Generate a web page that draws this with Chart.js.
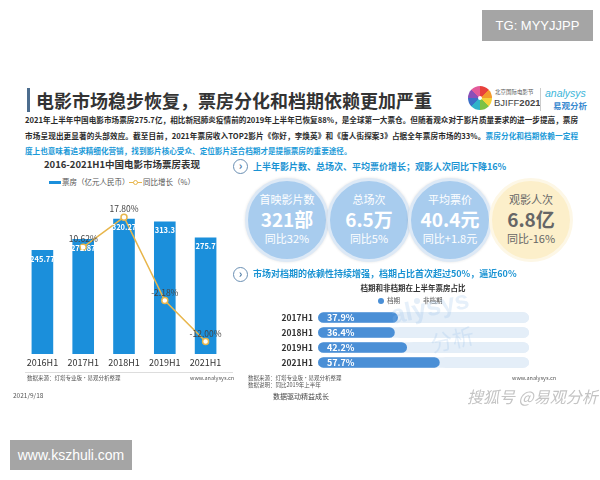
<!DOCTYPE html>
<html><head><meta charset="utf-8">
<script src="https://cdn.jsdelivr.net/npm/chart.js@4"></script>
<style>
*{margin:0;padding:0;box-sizing:border-box}
body{width:600px;height:480px;background:#fff;position:relative;overflow:hidden;font-family:"Noto Sans CJK SC","Noto Sans",sans-serif;color:#333}
.abs{position:absolute;white-space:nowrap}
.gbox{position:absolute;background:#a5a5a5;color:#fff;font-family:"Liberation Sans","Open Sans",sans-serif;display:flex;align-items:center;justify-content:center}
.para{position:absolute;left:25px;width:553px;font-size:7.6px;font-weight:bold;line-height:10px;color:#2b2b2b}
.j{text-align:justify;text-align-last:justify}
.blue{color:#1b9ad8}
.hdr{position:absolute;left:253px;font-size:9px;font-weight:bold;color:#1a93d3;line-height:12px}
.icon{position:absolute;width:15px;height:15px;border:1.3px solid #6a8fb3;border-radius:50%;color:#4f7aa3;font-size:11px;line-height:11px;text-align:center;font-weight:bold}
.circ{position:absolute;width:84px;height:84px;border-radius:50%;background:#a8ccee;border:3px solid #dde9f6;box-shadow:0 0 3px rgba(0,0,0,0.12);color:#fff;text-align:center}
.circ .l{position:absolute;left:0;right:0;top:12px;font-size:11px;line-height:13px}
.circ .n{position:absolute;left:0;right:0;top:27px;font-size:19px;font-weight:bold;line-height:22px}
.circ .s{position:absolute;left:0;right:0;top:51px;font-size:11px;line-height:13px}
.circ.y{background:#fcefca;border-color:#fdf7e6;color:#666}
.foot{position:absolute;font-size:5.5px;color:#555;line-height:7px;white-space:nowrap}
</style></head>
<body>
<div class="gbox" style="left:482px;top:10px;width:111px;height:31px;font-size:13px">TG: MYYJJPP</div>
<div class="gbox" style="left:10px;top:440px;width:122px;height:30px;font-size:14px">www.kszhuli.com</div>

<div class="abs" style="left:27px;top:88px;width:2.5px;height:24px;background:#4d6d8e"></div>
<div class="abs" style="left:36px;top:88px;font-size:18px;font-weight:bold;line-height:24px;color:#333">电影市场稳步恢复，票房分化和档期依赖更加严重</div>

<div class="abs" style="left:468px;top:86px;width:24px;height:24px;border-radius:50%;background:conic-gradient(#e8413c 0 45deg,#f39a2b 45deg 90deg,#f6d23a 90deg 135deg,#7cc245 135deg 180deg,#2fb3c9 180deg 225deg,#3a6fc8 225deg 270deg,#8a4fb8 270deg 315deg,#e35a9a 315deg 360deg)"></div>
<div class="abs" style="left:478px;top:96px;width:4px;height:4px;border-radius:50%;background:#fff"></div>
<div class="abs" style="left:495px;top:89px;font-size:5.5px;line-height:7px;color:#555">北京国际电影节</div>
<div class="abs" style="left:494px;top:97px;font-size:9.5px;line-height:12px;color:#444;font-family:'Liberation Sans',sans-serif">BJIFF<b>2021</b></div>
<div class="abs" style="left:540px;top:88px;width:1px;height:23px;background:#ccc"></div>
<div class="abs" style="left:545px;top:87px;font-size:10.5px;line-height:12px;color:#3cb6da;font-style:italic;font-family:'Liberation Sans',sans-serif">analysys</div>
<div class="abs" style="left:553px;top:100px;font-size:8.5px;line-height:11px;color:#3a8ad0;font-weight:bold">易观分析</div>

<div class="para j" style="top:115px">2021年上半年中国电影市场票房275.7亿，相比新冠肺炎疫情前的2019年上半年已恢复88%，是全球第一大票仓。但随着观众对于影片质量要求的进一步提高，票房</div>
<div class="para j" style="top:131px">市场呈现出更显著的头部效应。截至目前，2021年票房收入TOP2影片《你好，李焕英》和《唐人街探案3》占据全年票房市场的33%。<span class="blue">票房分化和档期依赖一定程</span></div>
<div class="para blue" style="top:146px">度上也意味着追求精细化营销，找到影片核心受众、定位影片适合档期才是提振票房的重要途径。</div>

<!-- left chart title/legend -->
<div class="abs" style="left:0;width:244px;text-align:center;top:158px;font-size:9.5px;font-weight:bold;line-height:13px;color:#333">2016-2021H1中国电影市场票房表现</div>
<div class="abs" style="left:49px;top:181px;width:12px;height:3px;background:#1b8fdb"></div>
<div class="abs" style="left:62px;top:177px;font-size:7.5px;line-height:10px;color:#555">票房（亿元人民币）</div>
<div class="abs" style="left:129px;top:182px;width:13px;height:1px;background:#e8b64c"></div>
<div class="abs" style="left:133px;top:180px;width:5px;height:5px;border-radius:50%;background:#fff;border:1px solid #e8b64c"></div>
<div class="abs" style="left:143px;top:177px;font-size:7.5px;line-height:10px;color:#555">同比增长（%）</div>

<div style="position:absolute;left:0;top:190px;width:240px;height:190px"><canvas id="c1"></canvas></div>
<div class="abs" style="left:25px;top:372px;width:208px;height:1px;background:#ddd"></div>
<div class="foot" style="left:27px;top:375px">数据来源：灯塔专业版·易观分析整理</div>
<div class="foot" style="left:190px;top:375px">www.analysys.cn</div>
<div class="abs" style="left:13px;top:391px;font-size:6.5px;line-height:8px;color:#555">2021/9/18</div>

<!-- right side -->
<div class="icon" style="left:233px;top:159px">›</div>
<div class="hdr" style="top:161px">上半年影片数、总场次、平均票价增长；观影人次同比下降16%</div>

<div class="circ" style="left:245px;top:178px"><div class="l">首映影片数</div><div class="n">321部</div><div class="s">同比32%</div></div>
<div class="circ" style="left:327px;top:178px"><div class="l">总场次</div><div class="n">6.5万</div><div class="s">同比5%</div></div>
<div class="circ" style="left:408px;top:178px"><div class="l">平均票价</div><div class="n">40.4元</div><div class="s">同比+1.8元</div></div>
<div class="circ y" style="left:489px;top:178px;box-shadow:none"><div class="l">观影人次</div><div class="n">6.8亿</div><div class="s">同比-16%</div></div>

<div class="icon" style="left:233px;top:267px">›</div>
<div class="hdr" style="top:268px">市场对档期的依赖性持续增强，档期占比首次超过50%，逼近60%</div>

<div class="abs" style="left:300px;width:226px;text-align:center;top:283px;font-size:7.5px;font-weight:bold;line-height:10px;color:#333">档期和非档期在上半年票房占比</div>
<div class="abs" style="left:378px;top:298px;width:6px;height:6px;border-radius:50%;background:#4a8fd6"></div>
<div class="abs" style="left:387px;top:296px;font-size:6.5px;line-height:9px;color:#555">档期</div>
<div class="abs" style="left:414px;top:298px;width:6px;height:6px;border-radius:50%;background:#e4eef8"></div>
<div class="abs" style="left:423px;top:296px;font-size:6.5px;line-height:9px;color:#555">非档期</div>

<div style="position:absolute;left:250px;top:300px;width:300px;height:80px"><canvas id="c2"></canvas></div>
<div class="abs" style="left:390px;top:292px;font-size:26px;color:rgba(140,185,230,0.22);transform:rotate(-12deg);font-family:'Liberation Sans',sans-serif;font-weight:bold;pointer-events:none">alysys</div>
<div class="abs" style="left:430px;top:322px;font-size:22px;color:rgba(140,185,230,0.22);transform:rotate(-12deg);pointer-events:none">分析</div>

<div class="foot" style="left:248px;top:375px">数据来源：灯塔专业版·易观分析整理</div>
<div class="foot" style="left:248px;top:382px">数据说明：同比2019年上半年</div>
<div class="foot" style="left:512px;top:375px">www.analysys.cn</div>
<div class="abs" style="left:273px;top:392px;font-size:7px;line-height:9px;color:#444">数据驱动精益成长</div>
<div class="abs" style="left:467px;top:386px;font-size:16px;line-height:20px;color:#c4c4c4;font-style:italic">搜狐号 @易观分析</div>

<script>
// ---- data ----
const categories = ['2016H1','2017H1','2018H1','2019H1','2021H1'];
const boxOffice = [245.77, 271.87, 320.27, 313.3, 275.7];
const growth = [null, 10.62, 17.80, -2.18, -12.00];
const periods = ['2017H1','2018H1','2019H1','2021H1'];
const holidayShare = [37.9, 36.4, 42.2, 57.7];
const nonHolidayShare = [62.1, 63.6, 57.8, 42.3];

const FONT = '"Noto Sans CJK SC","Noto Sans",sans-serif';

const comboLabels = {
  id: 'comboLabels',
  afterDatasetsDraw(chart) {
    const ctx = chart.ctx;
    ctx.save();
    chart.data.datasets.forEach((ds, i) => {
      const meta = chart.getDatasetMeta(i);
      meta.data.forEach((el, j) => {
        const v = ds.data[j];
        if (v == null) return;
        ctx.textAlign = 'center';
        ctx.textBaseline = 'middle';
        if (ds.type === 'line') {
          ctx.font = '8.5px ' + FONT;
          ctx.fillStyle = '#444';
          ctx.fillText(v.toFixed(2) + '%', el.x, el.y - 8);
        } else {
          ctx.font = 'bold 7.5px ' + FONT;
          ctx.fillStyle = '#fff';
          ctx.fillText(String(v), el.x, el.y + 9);
        }
      });
    });
    ctx.restore();
  }
};

new Chart(document.getElementById('c1'), {
  type: 'bar',
  data: {
    labels: categories,
    datasets: [
      { type: 'line', label: '同比增长（%）', data: growth, yAxisID: 'y1', order: 0,
        borderColor: '#e8b64c', borderWidth: 1.5, tension: 0,
        pointRadius: 3, pointBackgroundColor: '#fff', pointBorderColor: '#e8b64c', pointBorderWidth: 1.5 },
      { type: 'bar', label: '票房（亿元人民币）', data: boxOffice, yAxisID: 'y', order: 1,
        backgroundColor: '#1b8fdb', barPercentage: 0.53, categoryPercentage: 1 }
    ]
  },
  options: {
    responsive: true, maintainAspectRatio: false, animation: false,
    layout: { padding: { left: 22, right: 14, top: 5, bottom: 0 } },
    plugins: { legend: { display: false }, title: { display: false }, tooltip: { enabled: false } },
    scales: {
      x: { grid: { display: false, drawTicks: false }, border: { display: false },
           ticks: { padding: 3, color: '#333', font: { family: FONT, size: 9 } },
           afterFit(a) { a.height = 26; } },
      y: { display: false, min: 0, max: 375 },
      y1: { display: false, min: -15, max: 23 }
    }
  },
  plugins: [comboLabels]
});

const shareTrack = {
  id: 'shareTrack',
  beforeDatasetsDraw(chart) {
    const ctx = chart.ctx, xs = chart.scales.x;
    const meta = chart.getDatasetMeta(0);
    ctx.save();
    ctx.fillStyle = '#e4eef8';
    meta.data.forEach(el => {
      const x0 = xs.getPixelForValue(0), x1 = xs.getPixelForValue(100);
      const h = el.height, y0 = el.y - h / 2;
      ctx.beginPath();
      ctx.roundRect(x0, y0, x1 - x0, h, h / 2);
      ctx.fill();
    });
    ctx.restore();
  },
  afterDatasetsDraw(chart) {
    const ctx = chart.ctx;
    const meta = chart.getDatasetMeta(0);
    ctx.save();
    ctx.font = 'bold 9px ' + FONT;
    ctx.fillStyle = '#fff';
    ctx.textAlign = 'left';
    ctx.textBaseline = 'middle';
    meta.data.forEach((el, j) => {
      ctx.fillText(holidayShare[j].toFixed(1) + '%', el.base + 9, el.y + 0.5);
    });
    ctx.restore();
  }
};

const R = { topLeft: 6, topRight: 6, bottomLeft: 6, bottomRight: 6 };
new Chart(document.getElementById('c2'), {
  type: 'bar',
  data: {
    labels: periods,
    datasets: [
      { label: '档期', data: holidayShare, backgroundColor: '#4a8fd6', borderRadius: R, borderSkipped: false,
        barPercentage: 1, categoryPercentage: 0.7 },
      { label: '非档期', data: nonHolidayShare, backgroundColor: '#e4eef8', borderRadius: R, borderSkipped: false,
        barPercentage: 1, categoryPercentage: 0.7 }
    ]
  },
  options: {
    indexAxis: 'y',
    responsive: true, maintainAspectRatio: false, animation: false,
    layout: { padding: { left: 0, right: 21, top: 6, bottom: 8 } },
    plugins: { legend: { display: false }, title: { display: false }, tooltip: { enabled: false } },
    scales: {
      x: { display: false, stacked: true, min: 0, max: 100 },
      y: { stacked: true, grid: { display: false, drawTicks: false }, border: { display: false },
           ticks: { padding: 5, color: '#333', font: { family: FONT, size: 8.5, weight: 'bold' } },
           afterFit(a) { a.width = 68; } }
    }
  },
  plugins: [shareTrack]
});
</script>
</body></html>
